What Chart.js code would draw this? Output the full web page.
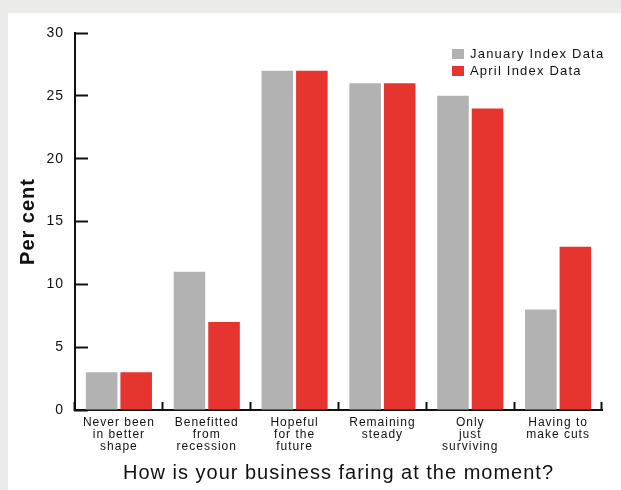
<!DOCTYPE html>
<html>
<head>
<meta charset="utf-8">
<script src="https://cdn.jsdelivr.net/npm/chart.js@4/dist/chart.umd.min.js"></script>
<style>
  body { margin: 0; background: #ebecea; font-family: "Liberation Sans", Arial, sans-serif; }
  #panel { position: absolute; left: 8px; top: 13px; width: 613px; height: 477px; background: #fff; }
  #legend { position: absolute; left: 444px; top: 33px; font-size: 13px; letter-spacing: 1.2px; color: #111; }
  #legend div { height: 16.5px; line-height: 16.5px; white-space: nowrap; }
  #legend span { display: inline-block; width: 12px; height: 10px; margin-right: 6px; vertical-align: -1px; }
</style>
</head>
<body>
<div id="panel">
  <canvas id="chart" width="613" height="477"></canvas>
  <div id="legend"></div>
</div>
<script>
// Survey answers (x axis)
const categories = [
  ['Never been', 'in better', 'shape'],
  ['Benefitted', 'from', 'recession'],
  ['Hopeful', 'for the', 'future'],
  ['Remaining', 'steady'],
  ['Only', 'just', 'surviving'],
  ['Having to', 'make cuts']
];
const seriesNames = ['January Index Data', 'April Index Data'];
const januaryValues = [3, 11, 27, 26, 25, 8];
const aprilValues = [3, 7, 27, 26, 24, 13];
const yTicks = [0, 5, 10, 15, 20, 25, 30];
const colors = ['#b2b2b2', '#e6352f'];

const fontFamily = '"Liberation Sans", Arial, sans-serif';

// the original text is slightly tracked out
const tracking = {
  id: 'tracking',
  beforeUpdate: c => { c.ctx.letterSpacing = '1px'; },
  beforeDraw: c => { c.ctx.letterSpacing = '1px'; }
};

const ctx = document.getElementById('chart').getContext('2d');
const chart = new Chart(ctx, {
  type: 'bar',
  data: {
    labels: categories,
    datasets: [
      { label: seriesNames[0], data: januaryValues, backgroundColor: colors[0] },
      { label: seriesNames[1], data: aprilValues, backgroundColor: colors[1] }
    ]
  },
  options: {
    responsive: false,
    animation: false,
    events: [],
    layout: { padding: { top: 20, right: 19, left: 0, bottom: 0 } },
    datasets: { bar: { categoryPercentage: 0.787, barPercentage: 0.913 } },
    scales: {
      x: {
        grid: { drawOnChartArea: false, tickLength: -8, tickWidth: 2, color: '#111' },
        border: { color: '#111', width: 2 },
        ticks: {
          color: '#111', padding: 15, maxRotation: 0, autoSkip: false,
          font: { family: fontFamily, size: 12, lineHeight: 0.975 }
        },
        title: {
          display: true, text: 'How is your business faring at the moment?', color: '#111',
          font: { family: fontFamily, size: 20 },
          padding: { top: 4, bottom: 4.5 }
        },
        afterFit: scale => { scale.height = 80; }
      },
      y: {
        min: 0,
        max: 30,
        afterBuildTicks: scale => { scale.ticks = yTicks.map(v => ({ value: v })); },
        grid: { drawOnChartArea: false, tickLength: -13, tickWidth: 2, color: '#111' },
        border: { color: '#111', width: 2 },
        ticks: {
          color: '#111', padding: 24,
          font: { family: fontFamily, size: 14 }
        },
        title: {
          display: true, text: 'Per cent', color: '#111',
          font: { family: fontFamily, size: 20, weight: 'bold' },
          padding: { top: 8, bottom: 4 }
        },
        afterFit: scale => {
          scale.width = 67;
          scale.paddingTop = 0;
          scale.paddingBottom = 0;
        }
      }
    },
    plugins: {
      legend: { display: false },
      tooltip: { enabled: false }
    }
  },
  plugins: [tracking]
});

// legend built from the datasets
const legend = document.getElementById('legend');
chart.data.datasets.forEach(ds => {
  const row = document.createElement('div');
  const box = document.createElement('span');
  box.style.background = ds.backgroundColor;
  row.appendChild(box);
  row.appendChild(document.createTextNode(ds.label));
  legend.appendChild(row);
});
</script>
</body>
</html>
